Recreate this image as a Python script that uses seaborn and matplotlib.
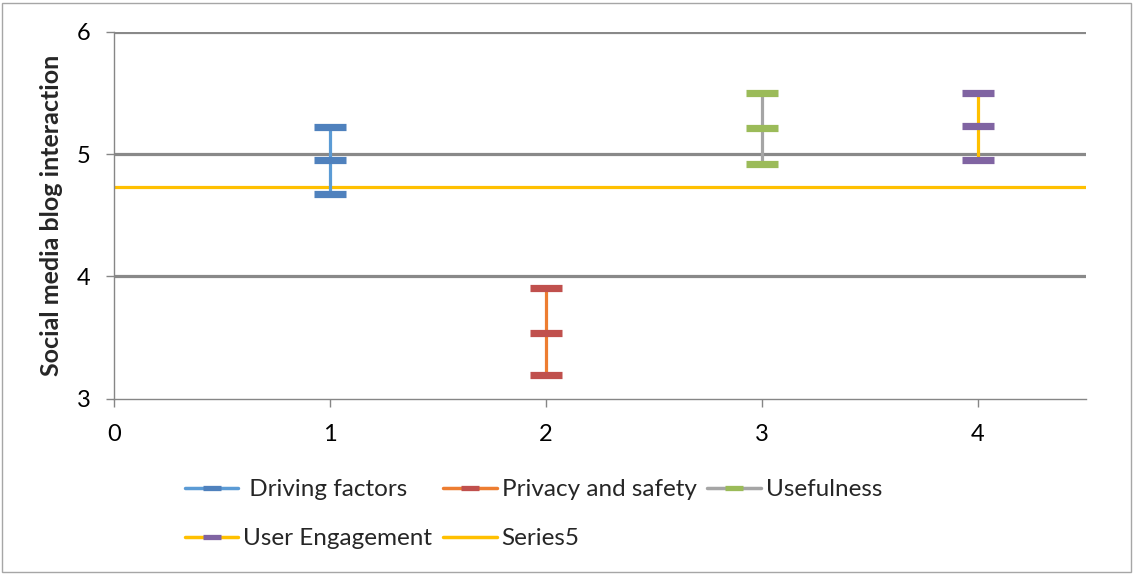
import pandas as pd
import matplotlib.pyplot as plt
import seaborn as sns
from matplotlib.lines import Line2D
from matplotlib.patches import Rectangle

sns.set_style("white")
plt.rcParams['font.family'] = ['Lato', 'DejaVu Sans']

# DATA
series = ['Driving factors', 'Privacy and safety', 'Usefulness', 'User Engagement']
x_pos = [1, 2, 3, 4]
upper = [5.22, 3.90, 5.50, 5.50]
mean = [4.95, 3.54, 5.21, 5.23]
lower = [4.67, 3.19, 4.92, 4.95]
series5_label = 'Series5'
series5_value = 4.73
x_ticks = [0, 1, 2, 3, 4]
y_ticks = [3, 4, 5, 6]
grid_levels = [4, 5, 6]

line_colors = ['#5B9BD5', '#ED7D31', '#A5A5A5', '#FFC000']
marker_colors = ['#4F81BD', '#C0504D', '#9BBB59', '#8064A2']
series5_color = '#FFC000'

rows = []
for s, x, hi, m, lo in zip(series, x_pos, upper, mean, lower):
    for y in (hi, m, lo):
        rows.append({'series': s, 'x': x, 'y': y})
df = pd.DataFrame(rows)

fig = plt.figure(figsize=(11.33, 5.74), dpi=100)
ax = fig.add_axes([0.1006, 0.3057, 0.8579, 0.639])

for y in grid_levels:
    ax.axhline(y, color='#898989', lw=2.3, zorder=0.5)

ax.axhline(series5_value, color=series5_color, lw=2.3, zorder=1)

for s, lc, mc in zip(series, line_colors, marker_colors):
    sns.lineplot(data=df[df['series'] == s], x='x', y='y', estimator=None, sort=False,
                 ax=ax, color=lc, lw=2.3, marker='_', markersize=23,
                 markeredgewidth=5.2, markeredgecolor=mc, legend=False, zorder=2)

ax.set_xlim(0, 4.5)
ax.set_ylim(3, 6)
ax.set_xticks(x_ticks)
ax.set_yticks(y_ticks)
ax.set_xlabel('')
ax.set_ylabel('Social media blog interaction', fontsize=18, fontweight='bold', va='center')
ax.yaxis.set_label_coords(-0.0638, 0.5)

for side in ['top', 'right']:
    ax.spines[side].set_visible(False)
for side in ['left', 'bottom']:
    ax.spines[side].set_color('#868686')
    ax.spines[side].set_linewidth(1.0)
ax.tick_params(axis='both', direction='out', length=6, width=1, color='#868686',
               labelsize=17, labelcolor='black')
ax.tick_params(axis='y', pad=11)
ax.tick_params(axis='x', pad=12)
ax.tick_params(left=True, bottom=True)

# legend, row-wise like Excel
handles = {}
for s, lc, mc in zip(series, line_colors, marker_colors):
    handles[s] = Line2D([], [], color=lc, lw=2.5, marker='_', markersize=13,
                        markeredgewidth=3.8, markeredgecolor=mc)
handles[series5_label] = Line2D([], [], color=series5_color, lw=2.5)
labels_map = {s: s for s in handles}
labels_map['Driving factors'] = ' Driving factors'
order = ['Driving factors', 'User Engagement', 'Privacy and safety', series5_label, 'Usefulness']
fig.legend([handles[k] for k in order], [labels_map[k] for k in order], ncol=3,
           loc='upper left', bbox_to_anchor=(185 / 1133, 1 - 479 / 574),
           frameon=False, fontsize=17.5, handlelength=2.2, handletextpad=0.2,
           columnspacing=0.45, labelspacing=1.17, borderpad=0, borderaxespad=0)

fig.add_artist(Rectangle((2 / 1133, 2 / 574), 1129 / 1133, 569 / 574,
                         transform=fig.transFigure, fill=False, ec='#A6A6A6', lw=1))

fig.savefig('out.png', dpi=100)
plt.close()
